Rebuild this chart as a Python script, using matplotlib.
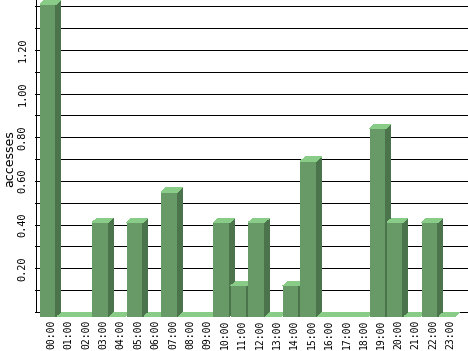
import matplotlib
matplotlib.use('Agg')
import matplotlib.pyplot as plt
from matplotlib.patches import Polygon

# hourly accesses
hours = ['00:00', '01:00', '02:00', '03:00', '04:00', '05:00', '06:00', '07:00',
         '08:00', '09:00', '10:00', '11:00', '12:00', '13:00', '14:00', '15:00',
         '16:00', '17:00', '18:00', '19:00', '20:00', '21:00', '22:00', '23:00']
values = [1.43, 0, 0, 0.43, 0, 0.43, 0, 0.57,
          0, 0, 0.43, 0.14, 0.43, 0, 0.14, 0.71,
          0, 0, 0, 0.86, 0.43, 0, 0.43, 0]
yticks = [0.2, 0.4, 0.6, 0.8, 1.0, 1.2]
ytick_labels = ['0.20', '0.40', '0.60', '0.80', '1.00', '1.20']
grid_levels = [0.0, 0.1, 0.2, 0.3, 0.4, 0.5, 0.6, 0.7, 0.8, 0.9, 1.0, 1.1, 1.2, 1.3, 1.4]

front_col = '#679a67'
side_col = '#4c744c'
top_col = '#88cc88'

W, H = 468, 351
px_x = 17.35          # pixels per hour
px_y = 218.4          # pixels per unit
bar_w = 0.92
dx = 5 / px_x         # 3d depth
dy = 4.5 / px_y
x_first = -0.46       # left edge of first bar front

fig = plt.figure(figsize=(W / 100, H / 100), dpi=100)
left_px, bottom_px = 35, 318
ax = fig.add_axes([left_px / W, (H - bottom_px) / H, 1 - left_px / W, bottom_px / H])
ax.set_xlim(x_first - dx, x_first + (W - 40) / px_x)
ytop = 312 / px_y
ax.set_ylim(-(bottom_px - 312) / px_y, ytop)
for s in ax.spines.values():
    s.set_visible(False)

xl, xr = ax.get_xlim()
ax.hlines(grid_levels, xl, xr, colors='black', linewidth=0.72, zorder=1, antialiased=False)
ax.vlines(xl + 0.5 / px_x, 0, ytop, colors='black', linewidth=0.72, zorder=1, antialiased=False)

for i, v in enumerate(values):
    x0 = i + x_first
    x1 = x0 + bar_w
    if v > 0:
        front = [(x0, -dy), (x1, -dy), (x1, v - dy), (x0, v - dy)]
        side = [(x1, -dy), (x1 + dx, 0), (x1 + dx, v), (x1, v - dy)]
        ax.add_patch(Polygon(front, closed=True, facecolor=front_col, edgecolor='none',
                             antialiased=False, zorder=2))
        ax.add_patch(Polygon(side, closed=True, facecolor=side_col, edgecolor='none',
                             antialiased=False, zorder=2))
    top = [(x0, v - dy), (x1, v - dy), (x1 + dx, v), (x0 + dx, v)]
    ax.add_patch(Polygon(top, closed=True, facecolor=top_col, edgecolor='none',
                         antialiased=False, zorder=2))

mono = 'DejaVu Sans Mono'
ax.set_yticks(yticks)
ax.set_yticklabels(ytick_labels, rotation=90, va='center', family=mono, fontsize=7.4)
ax.set_xticks([i + x_first + bar_w / 2 + 0.2 for i in range(len(hours))])
ax.set_xticklabels(hours, rotation=90, family=mono, fontsize=7.0)
ax.tick_params(axis='y', length=0, pad=5.5)
ax.tick_params(axis='x', length=0, pad=1.2)
ax.set_ylabel('accesses', fontsize=9, labelpad=0.8)

fig.savefig('out.png', dpi=100)
